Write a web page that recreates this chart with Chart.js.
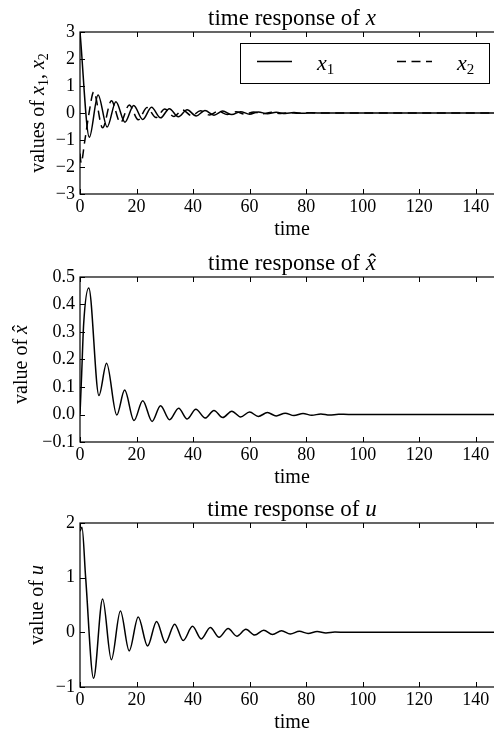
<!DOCTYPE html>
<html>
<head>
<meta charset="utf-8">
<script src="https://cdn.jsdelivr.net/npm/chart.js@4.4.1/dist/chart.umd.min.js"></script>
<style>
  html, body { margin: 0; padding: 0; background: #fff; overflow: hidden; width: 494px; height: 734px; }
  canvas { position: absolute; left: 0; }
</style>
</head>
<body>
<canvas id="chart-x" width="512" height="244" style="top:0"></canvas>
<canvas id="chart-xhat" width="512" height="246" style="top:244px"></canvas>
<canvas id="chart-u" width="512" height="244" style="top:490px"></canvas>
<script>
const FONT = '"Liberation Serif", "DejaVu Serif", serif';

// shared x axis
const xTicks = [0, 20, 40, 60, 80, 100, 120, 140];

// time response of x (read from peaks / troughs of the picture)
const tX1 = [0, 3.3, 6.4, 9.6, 12.7, 15.9, 19.0, 22.2, 25.3, 28.5, 31.6, 34.8, 37.9, 41.1, 44.2, 47.4, 50.5, 53.7, 56.8, 60.0, 63.1, 66.3, 69.4, 72.6, 75.7, 78.9, 82.0, 86.0, 150];
const x1Vals = [3.0, -0.9, 0.67, -0.52, 0.42, -0.34, 0.28, -0.24, 0.21, -0.18, 0.16, -0.14, 0.12, -0.11, 0.09, -0.08, 0.07, -0.06, 0.05, -0.045, 0.04, -0.03, 0.025, -0.02, 0.015, -0.012, 0.008, 0, 0];
const tX2 = [0, 0.4, 1.6, 3.2, 4.85, 8.0, 11.1, 14.3, 17.4, 20.6, 23.7, 26.9, 30.0, 33.2, 36.3, 39.5, 42.6, 45.8, 48.9, 52.1, 55.2, 58.4, 61.5, 64.7, 67.8, 71.0, 74.1, 77.3, 80.4, 84.0, 150];
const x2Vals = [-1.5, -1.85, -1.1, 0, 0.78, -0.55, 0.45, -0.36, 0.3, -0.25, 0.2, -0.17, 0.15, -0.13, 0.11, -0.1, 0.085, -0.075, 0.065, -0.055, 0.045, -0.04, 0.035, -0.03, 0.025, -0.02, 0.015, -0.012, 0.008, 0, 0];
const yTicksX = [-3, -2, -1, 0, 1, 2, 3];

// time response of x-hat
const tXhat = [0, 0.6, 1.3, 3.1, 6.7, 9.4, 13.0, 15.8, 19.1, 22.2, 25.5, 28.5, 31.7, 34.9, 37.9, 41.0, 44.3, 47.4, 50.5, 53.7, 56.8, 60.0, 63.1, 66.3, 69.4, 72.6, 75.7, 78.9, 82.0, 85.2, 88.3, 91.5, 95.0, 150];
const xhatVals = [0, 0.15, 0.33, 0.46, 0.069, 0.186, -0.002, 0.089, -0.022, 0.05, -0.025, 0.032, -0.019, 0.023, -0.016, 0.019, -0.013, 0.015, -0.011, 0.012, -0.009, 0.009, -0.007, 0.007, -0.005, 0.005, -0.004, 0.004, -0.003, 0.002, -0.002, 0.001, 0, 0];
const yTicksXhat = [-0.1, 0, 0.1, 0.2, 0.3, 0.4, 0.5];

// time response of u
const tU = [0, 0.7, 2.0, 4.8, 8.0, 11.1, 14.3, 17.4, 20.6, 23.9, 27.1, 30.2, 33.5, 36.5, 39.8, 42.9, 46.1, 49.2, 52.4, 55.5, 58.7, 61.8, 65.0, 68.1, 71.3, 74.4, 77.6, 80.7, 83.9, 87.0, 90.2, 94.0, 150];
const uVals = [1.85, 1.92, 1.0, -0.84, 0.61, -0.5, 0.39, -0.34, 0.28, -0.25, 0.2, -0.19, 0.15, -0.15, 0.11, -0.12, 0.09, -0.09, 0.07, -0.07, 0.055, -0.05, 0.04, -0.04, 0.03, -0.03, 0.02, -0.02, 0.015, -0.01, 0.006, 0, 0];
const yTicksU = [-1, 0, 1, 2];

const pts = (ts, vs) => ts.map((t, i) => ({ x: t, y: vs[i] }));
const minus = s => String(s).replace('-', '\u2212');

function segFont(s, size) {
  const sz = s.sub ? Math.round(size * 0.7) : size;
  return (s.it ? 'italic ' : '') + sz + 'px ' + FONT;
}
function richWidth(ctx, segs, size) {
  let w = 0;
  segs.forEach(s => { ctx.font = segFont(s, size); w += ctx.measureText(s.t).width; });
  return w;
}
function drawRich(ctx, segs, x, y, size) {
  ctx.textAlign = 'left';
  ctx.textBaseline = 'alphabetic';
  segs.forEach(s => {
    ctx.font = segFont(s, size);
    const w = ctx.measureText(s.t).width;
    ctx.fillText(s.t, x, y + (s.sub ? size * 0.22 : 0));
    if (s.hat) {
      ctx.font = size + 'px ' + FONT;
      ctx.textAlign = 'center';
      ctx.fillText('\u02C6', x + w / 2 + size * 0.06, y);
      ctx.textAlign = 'left';
    }
    x += w;
  });
}

// frame, inward ticks, title, axis labels, legend
function decor(cfg) {
  return {
    id: 'decor',
    afterDraw(chart) {
      const ctx = chart.ctx;
      const a = chart.chartArea;
      const xs = chart.scales.x, ys = chart.scales.y;
      ctx.save();
      ctx.strokeStyle = '#000';
      ctx.fillStyle = '#000';
      ctx.lineWidth = 1.2;
      ctx.strokeRect(a.left, a.top, a.right - a.left, a.bottom - a.top);
      ctx.lineWidth = 1;
      ctx.beginPath();
      xs.ticks.forEach(t => {
        const px = Math.round(xs.getPixelForValue(t.value)) + 0.5;
        ctx.moveTo(px, a.bottom); ctx.lineTo(px, a.bottom - 5);
        ctx.moveTo(px, a.top); ctx.lineTo(px, a.top + 5);
      });
      ys.ticks.forEach(t => {
        const py = Math.round(ys.getPixelForValue(t.value)) + 0.5;
        ctx.moveTo(a.left, py); ctx.lineTo(a.left + 5, py);
        ctx.moveTo(a.right, py); ctx.lineTo(a.right - 5, py);
      });
      ctx.stroke();

      const cx = (a.left + a.right) / 2;
      const tw = richWidth(ctx, cfg.title, 23);
      drawRich(ctx, cfg.title, cx - tw / 2, a.top - 7, 23);

      const xl = [{ t: 'time' }];
      const xw = richWidth(ctx, xl, 20);
      drawRich(ctx, xl, cx - xw / 2, a.bottom + 41, 20);

      const lw = richWidth(ctx, cfg.ylabel, 20);
      ctx.save();
      ctx.translate(cfg.ylabelX, (a.top + a.bottom) / 2 + (cfg.ylabelDy || 0));
      ctx.rotate(-Math.PI / 2);
      drawRich(ctx, cfg.ylabel, -lw / 2, 0, 20);
      ctx.restore();

      if (cfg.legend) {
        const L = cfg.legend;
        ctx.fillStyle = '#fff';
        ctx.fillRect(L.x, L.y, L.w, L.h);
        ctx.lineWidth = 1;
        ctx.strokeRect(L.x + 0.5, L.y + 0.5, L.w, L.h);
        ctx.fillStyle = '#000';
        const my = L.y + 18.5;
        L.items.forEach(it => {
          ctx.lineWidth = 1.5;
          ctx.setLineDash(it.dash || []);
          ctx.beginPath();
          ctx.moveTo(it.x0, my); ctx.lineTo(it.x0 + 35, my);
          ctx.stroke();
          ctx.setLineDash([]);
          drawRich(ctx, it.label, it.lx, L.y + 26.5, 22);
        });
      }
      ctx.restore();
    }
  };
}

function makeChart(id, datasets, yMin, yMax, yTicks, fmt, pad, cfg) {
  return new Chart(document.getElementById(id), {
    type: 'line',
    data: { datasets },
    options: {
      responsive: false,
      animation: false,
      devicePixelRatio: 1,
      layout: { padding: { top: pad.top, right: 8, bottom: 0, left: 0 } },
      plugins: { legend: { display: false }, tooltip: { enabled: false }, title: { display: false } },
      elements: { point: { radius: 0 }, line: { borderWidth: 1.5, borderColor: '#000' } },
      scales: {
        x: {
          type: 'linear', min: 0, max: 150,
          afterBuildTicks: s => { s.ticks = xTicks.map(v => ({ value: v })); },
          afterFit: s => { s.height = pad.xh; },
          grid: { display: false, drawTicks: false }, border: { display: false },
          ticks: { font: { family: FONT, size: 18 }, color: '#000', padding: 2, maxRotation: 0, autoSkip: false,
                   callback: v => minus(v) }
        },
        y: {
          type: 'linear', min: yMin, max: yMax,
          afterBuildTicks: s => { s.ticks = yTicks.map(v => ({ value: v })); },
          afterFit: s => { s.width = 80; },
          grid: { display: false, drawTicks: false }, border: { display: false },
          ticks: { font: { family: FONT, size: 18 }, color: '#000', padding: 5, autoSkip: false,
                   callback: v => minus(fmt(v)) }
        }
      }
    },
    plugins: [decor(cfg)]
  });
}

makeChart('chart-x', [
  { label: 'x1', data: pts(tX1, x1Vals), borderColor: '#000', cubicInterpolationMode: 'monotone' },
  { label: 'x2', data: pts(tX2, x2Vals), borderColor: '#000', borderDash: [9, 5.5], cubicInterpolationMode: 'monotone' }
], -3, 3, yTicksX, v => Math.round(v), { top: 32, xh: 50 }, {
  title: [{ t: 'time response of ' }, { t: 'x', it: true }],
  ylabel: [{ t: 'values of ' }, { t: 'x', it: true }, { t: '1', sub: true }, { t: ', ' }, { t: 'x', it: true }, { t: '2', sub: true }],
  ylabelX: 44,
  legend: {
    x: 240, y: 43, w: 249, h: 40,
    items: [
      { x0: 257, lx: 317, label: [{ t: 'x', it: true }, { t: '1', sub: true }] },
      { x0: 397, lx: 457, dash: [9, 5.5], label: [{ t: 'x', it: true }, { t: '2', sub: true }] }
    ]
  }
});

makeChart('chart-xhat', [
  { label: 'xhat', data: pts(tXhat, xhatVals), borderColor: '#000', cubicInterpolationMode: 'monotone' }
], -0.1, 0.5, yTicksXhat, v => v.toFixed(1), { top: 33, xh: 48 }, {
  title: [{ t: 'time response of ' }, { t: 'x', it: true, hat: true }],
  ylabel: [{ t: 'value of ' }, { t: 'x', it: true, hat: true }],
  ylabelX: 27,
  ylabelDy: 5
});

makeChart('chart-u', [
  { label: 'u', data: pts(tU, uVals), borderColor: '#000', cubicInterpolationMode: 'monotone' }
], -1, 2, yTicksU, v => Math.round(v), { top: 33, xh: 47 }, {
  title: [{ t: 'time response of ' }, { t: 'u', it: true }],
  ylabel: [{ t: 'value of ' }, { t: 'u', it: true }],
  ylabelX: 43
});
</script>
</body>
</html>
